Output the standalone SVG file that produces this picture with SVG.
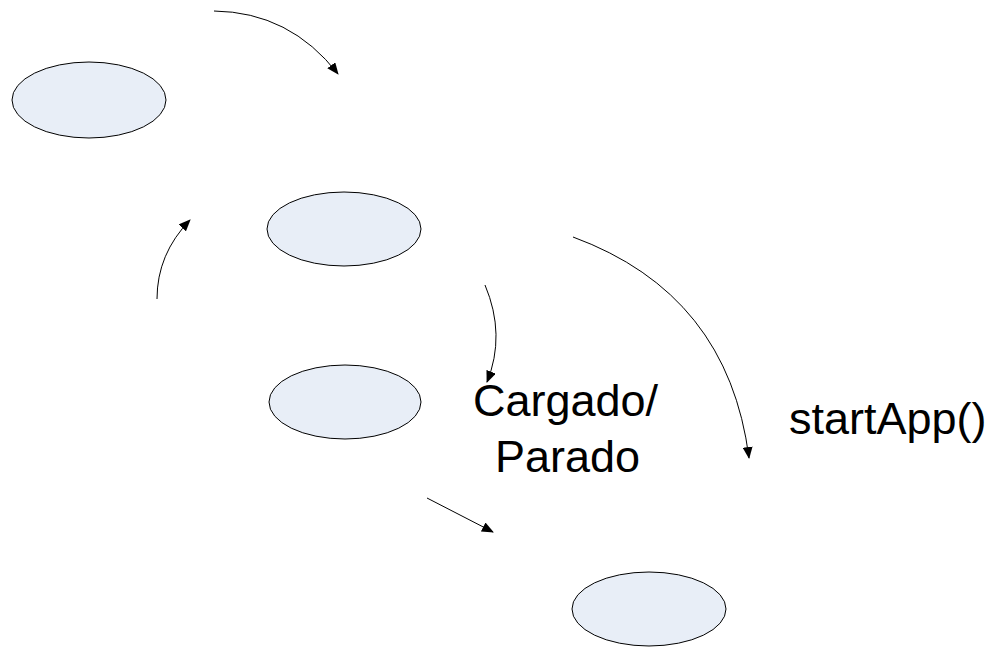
<svg xmlns="http://www.w3.org/2000/svg" width="995" height="649" viewBox="0 0 995 649">
<style>
.n{fill:#E8EEF7;stroke:#000;stroke-width:1}
.c{fill:none;stroke:#000;stroke-width:1}
.t{font-family:"Liberation Sans",Arial,sans-serif;font-size:45px;fill:#000}
</style>
<defs>
<marker id="a" markerWidth="12" markerHeight="10" refX="11" refY="5" orient="auto" markerUnits="userSpaceOnUse">
<path d="M0,0 L12,5 L0,10 Z" fill="#000"/>
</marker>
</defs>
<rect width="995" height="649" fill="#fff"/>
<g id="n1"><ellipse class="n" cx="89" cy="100" rx="77" ry="38"/></g>
<g id="n2"><ellipse class="n" cx="344" cy="229" rx="77" ry="37"/></g>
<g id="n3"><ellipse class="n" cx="345" cy="402" rx="76" ry="37"/></g>
<g id="n4"><ellipse class="n" cx="649" cy="609" rx="77" ry="37"/></g>
<g id="connectors">
<path class="c" marker-end="url(#a)" d="M214,11 Q290,12 338,74"/>
<path class="c" marker-end="url(#a)" d="M157,299 Q157,254 190,220"/>
<path class="c" marker-end="url(#a)" d="M485,285 Q506,335 487,382"/>
<path class="c" marker-end="url(#a)" d="M573,237 Q728,294 749,458"/>
<path class="c" marker-end="url(#a)" d="M427,498 L493,532"/>
</g>
<g id="labels">
<text class="t" x="473" y="416">Cargado/</text>
<text class="t" x="495" y="472">Parado</text>
<text class="t" x="789" y="434">startApp()</text>
</g>
</svg>
